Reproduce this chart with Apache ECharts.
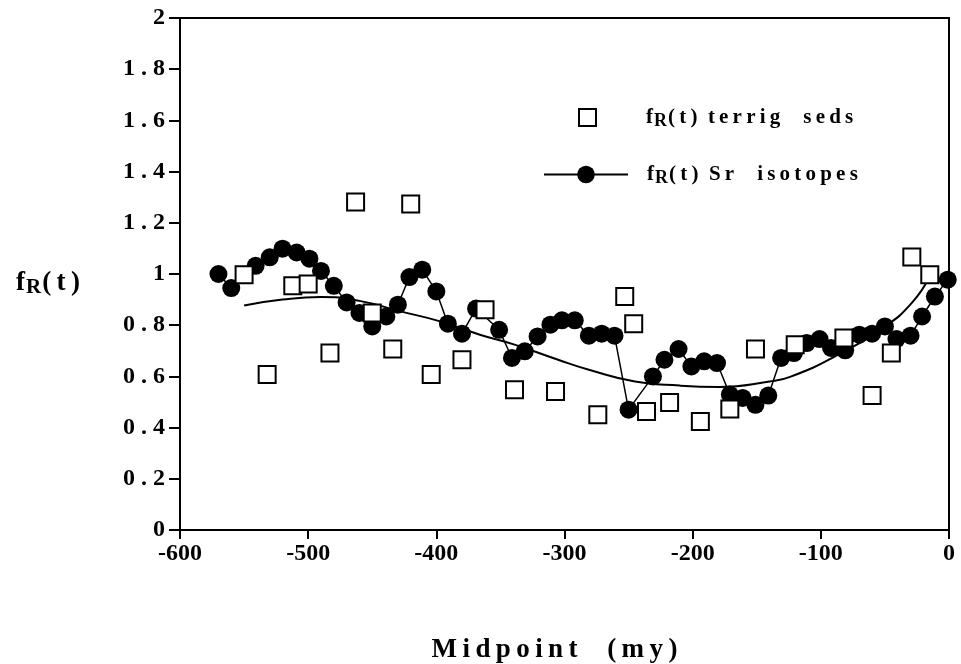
<!DOCTYPE html>
<html><head><meta charset="utf-8">
<script src="https://cdn.jsdelivr.net/npm/echarts@6/dist/echarts.min.js"></script>
<style>html,body{margin:0;padding:0;background:#fff}#c{width:961px;height:664px}</style>
</head><body><div id="c"></div>
<script>
// ---- data ----
const terrigX = [-550, -532, -512, -500, -483, -463, -450, -434, -420, -404, -380, -362, -339, -307, -274, -253, -246, -236, -218, -194, -171, -151, -120, -82, -60, -45, -29, -15];
const terrigY = [0.997, 0.607, 0.954, 0.961, 0.691, 1.281, 0.848, 0.707, 1.273, 0.607, 0.665, 0.86, 0.548, 0.541, 0.45, 0.912, 0.806, 0.463, 0.498, 0.424, 0.473, 0.707, 0.724, 0.75, 0.525, 0.691, 1.066, 0.997];

const srX = [-570, -560, -541, -530, -520, -509, -499, -490, -480, -470, -460, -450, -439, -430, -421, -411, -400, -391, -380, -369, -351, -341, -331, -321, -311, -302, -292, -281, -271, -261, -250, -231, -222, -211, -201, -191, -181, -171, -161, -151, -141, -131, -121, -111, -101, -92, -81, -70, -60, -50, -41, -30, -21, -11, -1];
const srY = [1.0, 0.945, 1.032, 1.065, 1.099, 1.084, 1.06, 1.012, 0.954, 0.889, 0.848, 0.795, 0.834, 0.88, 0.988, 1.017, 0.932, 0.806, 0.767, 0.865, 0.782, 0.672, 0.698, 0.756, 0.802, 0.819, 0.819, 0.759, 0.767, 0.759, 0.47, 0.6, 0.665, 0.707, 0.639, 0.659, 0.652, 0.529, 0.516, 0.489, 0.525, 0.672, 0.691, 0.73, 0.746, 0.711, 0.702, 0.763, 0.767, 0.795, 0.746, 0.759, 0.834, 0.912, 0.978];

const trendX = [-550, -520, -490, -460, -428, -397, -366, -339, -305, -281, -245, -210, -179, -140, -124, -89, -50, -29, -15];
const trendY = [0.877, 0.9, 0.91, 0.895, 0.854, 0.815, 0.763, 0.724, 0.665, 0.626, 0.58, 0.564, 0.559, 0.58, 0.598, 0.678, 0.795, 0.887, 0.99];

const xTickLabels = ['-600', '-500', '-400', '-300', '-200', '-100', '0'];
const yTickLabels = ['0', '0.2', '0.4', '0.6', '0.8', '1', '1.2', '1.4', '1.6', '1.8', '2'];

const seriesNames = ['terrig', 'sr'];
const legendWords = ['terrig  seds', 'Sr  isotopes'];
const xAxisTitle = 'Midpoint  (my)';

// ---- helpers ----
const FONT = "'Liberation Serif', 'Times New Roman', serif";
const TS = '\u2009';
const track = (s, sep) => s.split('').join(sep || TS);
const zip = (xs, ys) => xs.map((x, i) => [x, ys[i]]);

const fRich = (size, subSize) => ({
  f: {fontFamily: FONT, fontWeight: 'bold', fontSize: size, color: '#000', verticalAlign: 'top', padding: [4, 0, 4, 0]},
  r: {fontFamily: FONT, fontWeight: 'bold', fontSize: subSize, color: '#000', verticalAlign: 'top', padding: [Math.round(size * 0.45), 1, 0, 1]},
  g: {fontFamily: FONT, fontSize: size, verticalAlign: 'top'}
});

const chart = echarts.init(document.getElementById('c'), null, {renderer: 'canvas'});

const legendBase = {
  orient: 'vertical',
  selectedMode: false,
  padding: 0,
  textStyle: {fontFamily: FONT, fontWeight: 'bold', fontSize: 21, color: '#000'}
};
const legendText = w => '{g|}' + '{f|f}{r|R}{f|' + track('(t)') + '  ' + track(w) + '}';

chart.setOption({
  animation: false,
  backgroundColor: '#fff',
  grid: {left: 180, right: 12, top: 18, bottom: 134, show: true, borderColor: '#000', borderWidth: 2,
         backgroundColor: 'transparent', containLabel: false, outerBoundsMode: 'none'},
  legend: [
    Object.assign({}, legendBase, {
      data: [seriesNames[0]], left: 578, top: 107, itemWidth: 17, itemHeight: 17,
      formatter: () => legendText(legendWords[0]),
      textStyle: Object.assign({}, legendBase.textStyle, {rich: Object.assign(fRich(21, 18), {g: {width: 45}})})
    }),
    Object.assign({}, legendBase, {
      data: [seriesNames[1]], left: 543, top: 164, itemWidth: 84, itemHeight: 22,
      formatter: () => legendText(legendWords[1]),
      textStyle: Object.assign({}, legendBase.textStyle, {rich: Object.assign(fRich(21, 18), {g: {width: 14}})})
    })
  ],
  xAxis: {
    type: 'value', min: -600, max: 0, interval: 100,
    axisLine: {show: true, onZero: false, lineStyle: {color: '#000', width: 2}},
    axisTick: {show: true, inside: false, length: 9, lineStyle: {color: '#000', width: 2}},
    splitLine: {show: false},
    axisLabel: {
      margin: 12, color: '#000', fontFamily: FONT, fontWeight: 'bold', fontSize: 24,
      formatter: v => xTickLabels[Math.round((v + 600) / 100)]
    },
    name: track(xAxisTitle), nameLocation: 'middle', nameGap: 107,
    nameTextStyle: {fontFamily: FONT, fontWeight: 'bold', fontSize: 27, color: '#000', padding: [0, 20, 0, 0]}
  },
  yAxis: {
    type: 'value', min: 0, max: 2, interval: 0.2,
    axisLine: {show: true, onZero: false, lineStyle: {color: '#000', width: 2}},
    axisTick: {show: true, inside: false, length: 11, lineStyle: {color: '#000', width: 2}},
    splitLine: {show: false},
    axisLabel: {
      margin: 15, color: '#000', fontFamily: FONT, fontWeight: 'bold', fontSize: 24,
      formatter: v => { const s = yTickLabels[Math.round(v * 5)]; return s.length > 1 ? s.split('').join(' ') : s; }
    },
    name: '{f|f}{r|R}{f|' + track('(t)') + '}', nameLocation: 'middle', nameGap: 100, nameRotate: 0,
    nameTextStyle: {align: 'right', padding: [18, 0, 0, 0], rich: fRich(27, 21)}
  },
  series: [
    {
      name: seriesNames[0], type: 'scatter', z: 5,
      symbol: 'rect', symbolSize: 17,
      itemStyle: {color: '#fff', borderColor: '#000', borderWidth: 2, opacity: 1},
      data: zip(terrigX, terrigY)
    },
    {
      name: seriesNames[1], type: 'line', z: 4,
      symbol: 'circle', symbolSize: 18, showSymbol: true,
      itemStyle: {color: '#000'},
      lineStyle: {color: '#000', width: 1.5},
      data: zip(srX, srY)
    },
    {
      name: 'trend', type: 'line', z: 3, smooth: true, symbol: 'none',
      lineStyle: {color: '#000', width: 2},
      data: zip(trendX, trendY)
    }
  ]
});
</script>
</body></html>
